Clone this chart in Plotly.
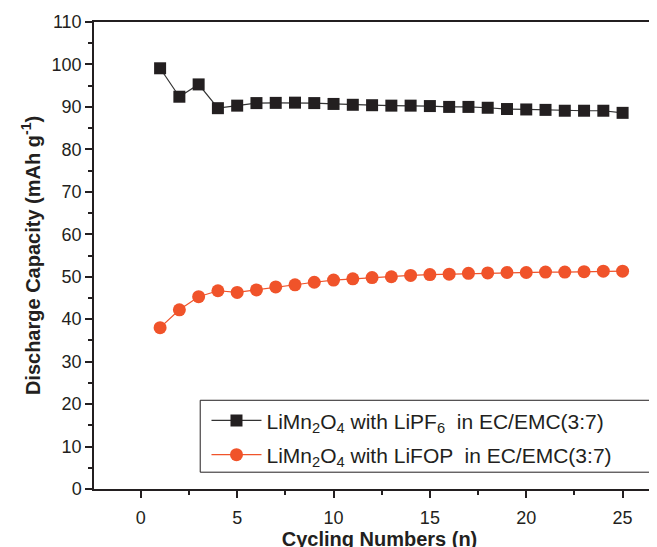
import plotly.graph_objects as go

cycles = list(range(1, 26))
lipf6 = [99.1, 92.4, 95.3, 89.7, 90.3, 90.9, 90.95, 91.0, 90.9, 90.7, 90.5, 90.4, 90.3, 90.3, 90.2,
         90.0, 90.0, 89.8, 89.5, 89.4, 89.3, 89.1, 89.1, 89.1, 88.6]
lifop = [38.0, 42.2, 45.3, 46.7, 46.3, 46.9, 47.6, 48.1, 48.7, 49.2, 49.5, 49.8, 50.0, 50.3, 50.5,
         50.6, 50.8, 50.9, 51.0, 51.0, 51.1, 51.1, 51.2, 51.3, 51.3]
name1 = "LiMn<sub>2</sub>O<sub>4</sub> with LiPF<sub>6</sub>  in EC/EMC(3:7)"
name2 = "LiMn<sub>2</sub>O<sub>4</sub> with LiFOP  in EC/EMC(3:7)"

fig = go.Figure()
fig.add_trace(go.Scatter(x=cycles, y=lipf6, mode="lines+markers", name=name1, legendgroup="a",
                         line=dict(color="#333333", width=1.2),
                         marker=dict(symbol="square", size=12, color="#231f20")))
fig.add_trace(go.Scatter(x=cycles, y=lifop, mode="lines+markers", name=name2, legendgroup="b",
                         line=dict(color="#f0532a", width=1.2),
                         marker=dict(symbol="circle", size=13, color="#f0532a")))

font = "Liberation Sans, Arial, sans-serif"
fig.update_layout(
    width=657, height=547,
    margin=dict(l=86, r=0, t=14, b=66, autoexpand=False),
    paper_bgcolor="white", plot_bgcolor="white",
    font=dict(family=font, size=18, color="#231f20"),
    showlegend=True,
    legend=dict(x=0.197, y=0.19, xanchor="left", yanchor="top",
                borderwidth=0, bgcolor="rgba(0,0,0,0)",
                font=dict(size=21, color="#231f20"), itemwidth=50,
                tracegroupgap=4),
    shapes=[dict(type="rect", xref="paper", yref="paper", x0=0.186, x1=1.05, y0=0.036, y1=0.19,
                 line=dict(color="#231f20", width=1), fillcolor="rgba(0,0,0,0)", layer="above")],
    xaxis=dict(range=[-2.43, 27.2], dtick=5, tick0=0, ticks="outside", ticklen=7,
               tickwidth=1.5, tickcolor="#231f20", automargin=False, ticklabelstandoff=5,
               minor=dict(dtick=2.5, tick0=0, ticks="outside", ticklen=4, tickcolor="#231f20"),
               showline=True, linecolor="#231f20", linewidth=1.5, mirror=True,
               showgrid=False, zeroline=False,
               title=dict(text="<b>Cycling Numbers (n)</b>", font=dict(size=20), standoff=4),
               tickfont=dict(size=18)),
    yaxis=dict(range=[0, 110], dtick=10, tick0=0, ticks="outside", ticklen=7,
               tickwidth=1.5, tickcolor="#231f20", automargin=False,
               minor=dict(dtick=5, tick0=0, ticks="outside", ticklen=4, tickcolor="#231f20"),
               showline=True, linecolor="#231f20", linewidth=1.5, mirror=True,
               showgrid=False, zeroline=False,
               title=dict(text="<b>Discharge Capacity (mAh g<sup>-1</sup>)</b>", font=dict(size=20), standoff=6),
               tickfont=dict(size=18)),
)
fig.write_html("out.html")
